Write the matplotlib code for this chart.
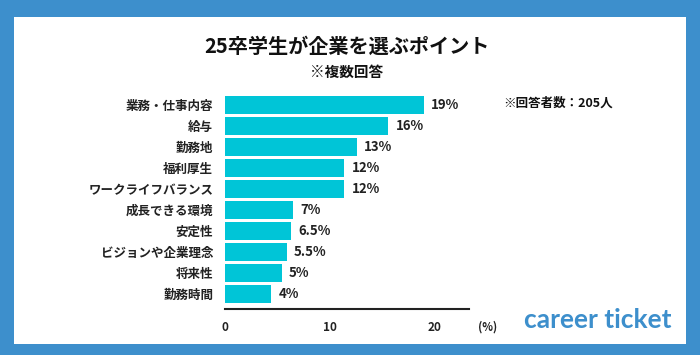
import matplotlib
matplotlib.use("Agg")
import matplotlib.pyplot as plt
from matplotlib.patches import Rectangle

plt.rcParams['font.family'] = ['Noto Sans CJK JP', 'DejaVu Sans']

categories = ["業務・仕事内容", "給与", "勤務地", "福利厚生", "ワークライフバランス",
              "成長できる環境", "安定性", "ビジョンや企業理念", "将来性", "勤務時間"]
values = [19.0, 15.6, 12.6, 11.4, 11.4, 6.5, 6.3, 5.9, 5.4, 4.4]
value_labels = ["19%", "16%", "13%", "12%", "12%", "7%", "6.5%", "5.5%", "5%", "4%"]
xticks = [0, 10, 20]

W, H = 700, 355
fig = plt.figure(figsize=(W / 100, H / 100), dpi=100)
fig.patch.set_facecolor("#3d8fcc")
fig.patches.append(Rectangle((14 / W, 11 / H), (686 - 14) / W, (344 - 17) / H,
                             transform=fig.transFigure, facecolor="white",
                             edgecolor="none", zorder=-5))

pitch = 21.0
ytop, ybot = -0.6, 9.73
ax_left, ax_right = 225, 469
ax_bottom_px = 309.3
ax_h = (ybot - ytop) * pitch
ax = fig.add_axes([ax_left / W, (H - ax_bottom_px) / H, (ax_right - ax_left) / W, ax_h / H])
ax.set_facecolor("none")
ax.set_zorder(2)

ypos = list(range(len(categories)))
ax.barh(ypos, values, height=0.86, color="#00c5d7", zorder=2)
ax.set_xlim(0, 23.3)
ax.set_ylim(ybot, ytop)

for y, v, lab in zip(ypos, values, value_labels):
    ax.text(v + 0.7, y, lab, va="center", ha="left", fontsize=9.5,
            fontweight="bold", color="#222222")

ax.set_yticks(ypos)
ax.set_yticklabels(categories, fontsize=9, fontweight="bold", color="#222222")
ax.set_xticks(xticks)
ax.set_xticklabels([str(t) for t in xticks], fontsize=8.5, fontweight="bold", color="#222222")
ax.tick_params(axis="y", length=0, pad=8.5)
ax.tick_params(axis="x", length=0, pad=8.5)
for s in ["top", "right", "left"]:
    ax.spines[s].set_visible(False)
ax.spines["bottom"].set_linewidth(1.5)
ax.spines["bottom"].set_color("#222222")

fig.text(488 / W, 1 - 327 / H, "(%)", ha="center", va="center", fontsize=8,
         fontweight="bold", color="#222222")

fig.text(347 / W, 1 - 46 / H, "25卒学生が企業を選ぶポイント", ha="center", va="center",
         fontsize=14.5, fontweight="bold", color="#111111")
fig.text(347 / W, 1 - 72 / H, "※複数回答", ha="center", va="center",
         fontsize=10.5, fontweight="bold", color="#111111")
fig.text(503 / W, 1 - 103 / H, "※回答者数：205人", ha="left", va="center",
         fontsize=9, fontweight="bold", color="#111111")
fig.text(598 / W, 1 - 320 / H, "career ticket", ha="center", va="center",
         fontsize=19, fontweight="bold", color="#3d8fcc", family=["Lato", "DejaVu Sans"])

fig.savefig("out.png", dpi=100)
